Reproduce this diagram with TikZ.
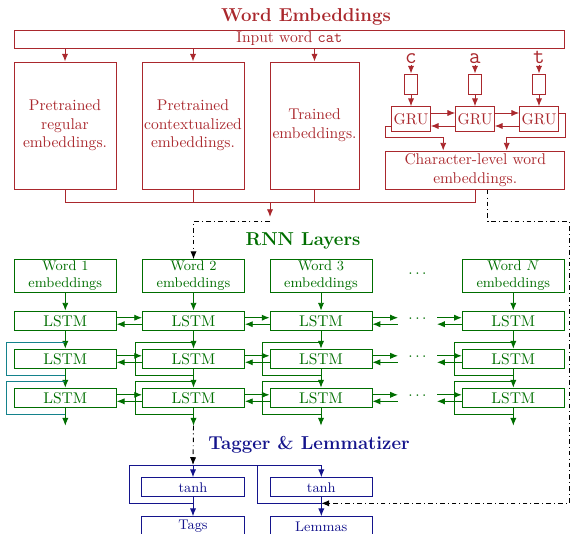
\documentclass[tikz,border=0pt]{standalone}
\usetikzlibrary{arrows.meta,calc}
\definecolor{cred}{RGB}{170,40,45}
\definecolor{cgreen}{RGB}{0,110,0}
\definecolor{cblue}{RGB}{20,20,140}
\definecolor{cteal}{RGB}{20,130,140}
\newcommand\pxu{0.643pt}
\tikzset{
  base/.style={line width=0.6pt, inner sep=1pt, align=center},
  rbox/.style={base, draw=cred, text=cred},
  gbox/.style={base, draw=cgreen, text=cgreen},
  bbox/.style={base, draw=cblue, text=cblue},
  tip/.style={-{Latex[length=5pt,width=4pt]}},
  rline/.style={draw=cred, line width=0.6pt},
  gline/.style={draw=cgreen, line width=0.6pt},
  bline/.style={draw=cblue, line width=0.6pt},
  rarr/.style={rline, tip},
  garr/.style={gline, tip},
  barr/.style={bline, tip},
  dd/.style={draw=black, line width=0.6pt, dash dot, tip},
  ttl/.style={font=\large\bfseries, inner sep=0pt},
}
\begin{document}
\begin{tikzpicture}[x=\pxu, y=-\pxu]
\useasboundingbox (0,0) rectangle (571,533);

% ---------- Word embeddings ----------
\node[ttl, text=cred] (t1) at (306,17) {Word Embeddings};
\node[rbox, minimum width=550*\pxu, minimum height=18*\pxu] (inp) at (289.3,39) {Input word \texttt{cat}};

\node[rbox, minimum width=102*\pxu, minimum height=127*\pxu] (b1) at (65,125.5) {Pretrained\\regular\\embeddings.};
\node[rbox, minimum width=102*\pxu, minimum height=127*\pxu] (b2) at (193,125.5) {Pretrained\\contextualized\\embeddings.};
\node[rbox, minimum width=89*\pxu, minimum height=127*\pxu] (b3) at (314.5,125.5) {Trained\\embeddings.};

\foreach \b in {b1,b2,b3} \draw[rarr] (inp.south -| \b) -- (\b);

\foreach \i/\x/\ch in {1/411/c,2/475/a,3/539/t} {
  \node[text=cred, font=\Large\ttfamily, anchor=base, inner sep=1pt] (c\i) at (\x,63.3) {\ch};
  \node[rbox, minimum width=13*\pxu, minimum height=20*\pxu] (s\i) at (\x,84) {};
  \node[rbox, minimum width=38.6*\pxu, minimum height=25.3*\pxu, inner sep=0pt] (g\i) at (\x,119.3) {GRU};
  \draw[rarr] (c\i.south) -- (s\i);
  \draw[rarr] (s\i) -- (g\i);
}
\draw[rarr] ($(g1.east)+(0,-6.3)$) -- ($(g2.west)+(0,-6.3)$);
\draw[rarr] ($(g2.west)+(0,6.7)$) -- ($(g1.east)+(0,6.7)$);
\draw[rarr] ($(g2.east)+(0,-6.3)$) -- ($(g3.west)+(0,-6.3)$);
\draw[rarr] ($(g3.west)+(0,6.7)$) -- ($(g2.east)+(0,6.7)$);

\node[rbox, minimum width=179*\pxu, minimum height=38.3*\pxu] (cb) at (475.2,170.2) {Character-level word\\embeddings.};
\draw[rarr] ($(g1.west)+(0,6.7)$) -| ($(cb.north west)+(0,-13.3)$) -| ($(cb.north)+(-32,0)$);
\draw[rarr] ($(g3.east)+(0,-6.3)$) -| ($(cb.north east)+(0,-13.3)$) -| ($(cb.north)+(31.5,0)$);

\coordinate (j) at (270,202.3);
\coordinate (emb) at (270,221.7);
\draw[rline] (b1.south) |- ($(cb.south)+(0,13)$) -- (cb.south);
\draw[rline] (b2.south) -- (b2.south |- j);
\draw[rline] (b3.south) -- (b3.south |- j);
\draw[rarr, shorten >=3pt] (j) -- (emb);

% ---------- RNN layers ----------
\node[ttl, text=cgreen] (t2) at (303,241) {RNN Layers};

\node[gbox, font=\small, minimum width=102*\pxu, minimum height=32*\pxu] (w1) at (65.3,276) {Word 1\\embeddings};
\node[gbox, font=\small, minimum width=102*\pxu, minimum height=32*\pxu] (w2) at (193.5,276) {Word 2\\embeddings};
\node[gbox, font=\small, minimum width=102*\pxu, minimum height=32*\pxu] (w3) at (321,276) {Word 3\\embeddings};
\node[gbox, font=\small, minimum width=102*\pxu, minimum height=32*\pxu] (w4) at (513.3,276) {Word $N$\\embeddings};
\node[text=cgreen, inner sep=0pt] (wd) at (417.5,274) {$\cdots$};

\draw[dd] (emb) -| (w2);

\foreach \c/\cx in {1/65.3,2/193.5,3/321,4/513.3} {
  \foreach \r/\ry in {1/320.7,2/358.8,3/397.8}
    \node[gbox, minimum width=102*\pxu, minimum height=19.3*\pxu, inner sep=0pt] (l\r\c) at (\cx,\ry) {LSTM};
  \coordinate (o\c) at (\cx,425.7);
  \draw[garr] (w\c) -- (l1\c);
  \draw[garr] (l1\c) -- (l2\c);
  \draw[garr] (l2\c) -- (l3\c);
  \draw[garr] (l3\c) -- (o\c);
}
\foreach \c in {1,2,3,4} {
  \ifnum\c=1 \def\lc{cteal}\else\def\lc{cgreen}\fi
  \foreach \r in {2,3}
    \draw[draw=\lc, line width=0.6pt] ($(l\r\c.north)+(0,-6.3)$) -| ($(l\r\c.south west)+(-7,6.5)$) -- ($(l\r\c.south)+(0,6.5)$);
}
\foreach \r/\ry in {1/320.7,2/358.8,3/397.8} {
  \draw[garr] ($(l\r1.east)+(0,-3)$) -- ($(l\r2.west)+(0,-3)$);
  \draw[garr] ($(l\r2.west)+(0,3.5)$) -- ($(l\r1.east)+(0,3.5)$);
  \draw[garr] ($(l\r2.east)+(0,-3)$) -- ($(l\r3.west)+(0,-3)$);
  \draw[garr] ($(l\r3.west)+(0,3.5)$) -- ($(l\r2.east)+(0,3.5)$);
  \node[text=cgreen, inner sep=0pt, minimum width=38.4*\pxu] (d\r) at (417.5,\ry-3) {};
  \node[text=cgreen, inner sep=0pt] (dt\r) at (417.5,\ry-1.7) {$\cdots$};
  \draw[garr] ($(l\r3.east)+(0,-3)$) -- (d\r.west);
  \draw[garr] ($(d\r.west)+(0,6.5)$) -- ($(l\r3.east)+(0,3.5)$);
  \draw[garr] (d\r.east) -- ($(l\r4.west)+(0,-3)$);
  \draw[garr] ($(l\r4.west)+(0,3.5)$) -- ($(d\r.east)+(0,6.5)$);
}

% ---------- Tagger & Lemmatizer ----------
\node[ttl, text=cblue] (t3) at (309,445) {Tagger \& Lemmatizer};

\node[bbox, font=\small, minimum width=102.6*\pxu, minimum height=19.3*\pxu, inner sep=0pt] (h1) at (193,487.3) {tanh};
\node[bbox, font=\small, minimum width=102.6*\pxu, minimum height=19.3*\pxu, inner sep=0pt] (h2) at (321.3,487.3) {tanh};
\node[bbox, font=\small, minimum width=102.6*\pxu, minimum height=19.3*\pxu, inner sep=0pt] (tags) at (193,526.3) {Tags};
\node[bbox, font=\small, minimum width=102.6*\pxu, minimum height=19.3*\pxu, inner sep=0pt] (lem) at (321.3,526.3) {Lemmas};

\coordinate (ti1) at (193,465);
\coordinate (ti2) at (321.3,465);
\coordinate (to1) at (193,503.3);
\coordinate (to2) at (321.3,503.3);
\coordinate (bl1) at (129.3,465);
\coordinate (bl2) at (257.3,465);
\draw[bline] (ti2) -- (bl1) |- (to1);
\draw[bline] (bl2) |- (to2);
\draw[barr] (ti1) -- (h1);
\draw[barr] (ti2) -- (h2);
\draw[barr] (h1) -- (tags);
\draw[barr] (h2) -- (lem);

\draw[dd] (o2) -- (ti1);
\coordinate (rc) at (569.3,221.7);
\draw[dd] ($(cb.south)+(12.3,0)$) |- (rc) |- (to2);
\end{tikzpicture}
\end{document}
